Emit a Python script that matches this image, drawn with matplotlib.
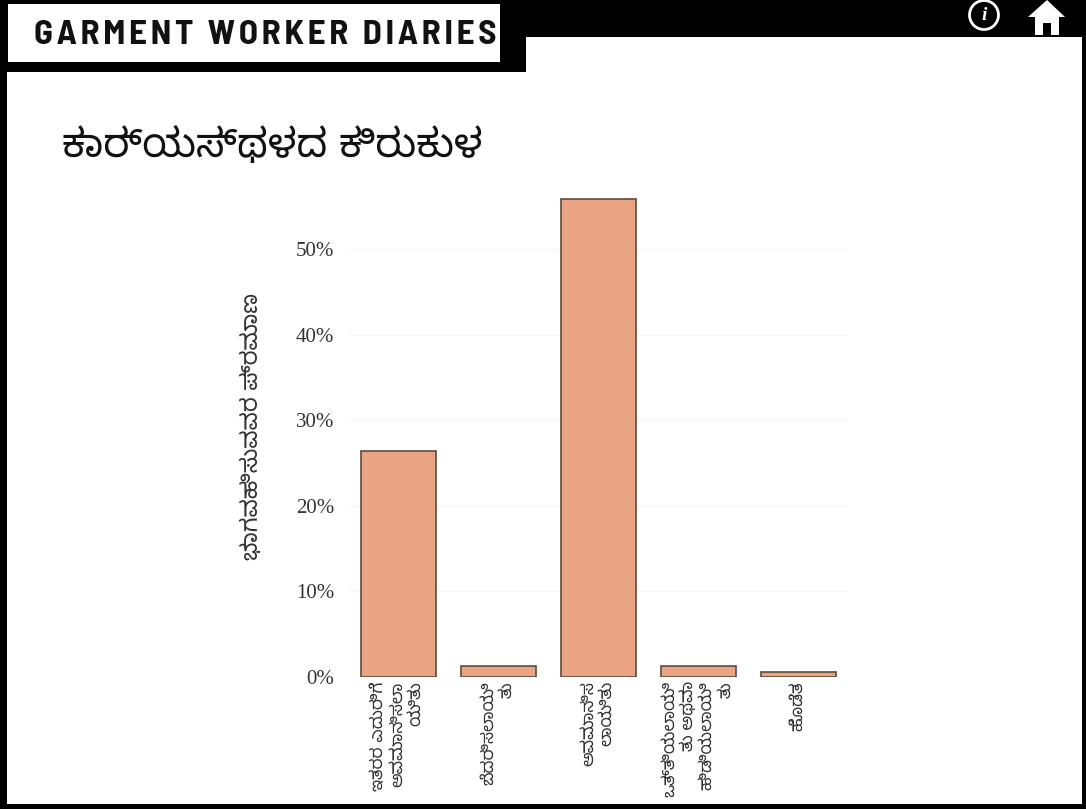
import matplotlib
matplotlib.use("Agg")
import matplotlib.pyplot as plt
from matplotlib.patches import Circle, Polygon, Rectangle

# values (percent of participants)
categories = [
    "ಇತರರ ಎದುರಿಗೆ\nಅವಮಾನಿಸಲಾ\nಯಿತು",
    "ಬೆದರಿಸಲಾಯಿ\nತು",
    "ಅವಮಾನಿಸ\nಲಾಯಿತು",
    "ಒತ್ತಿಯಲಾಯಿ\nತು ಅಥವಾ\nಹಿಡಿಯಲಾಯಿ\nತು",
    "ಹೊಡೆತ",
]
values = [26.4, 1.3, 55.8, 1.3, 0.55]
y_ticks = [0, 10, 20, 30, 40, 50]
y_tick_labels = ["0%", "10%", "20%", "30%", "40%", "50%"]

title = "ಕಾರ್ಯಸ್ಥಳದ ಕಿರುಕುಳ"
y_title = "ಭಾಗವಹಿಸುವವರ ಪ್ರಮಾಣ"
brand = "GARMENT WORKER DIARIES"

W, H = 1086, 809
KANNADA = ["Noto Sans Kannada UI", "Noto Sans Kannada", "Tiro Kannada", "DejaVu Sans"]
SERIF = ["Liberation Serif", "DejaVu Serif"]

fig = plt.figure(figsize=(W / 100, H / 100), dpi=100, facecolor="white")

# page furniture, in pixel coordinates
bg = fig.add_axes([0, 0, 1, 1], zorder=0)
bg.set_xlim(0, W)
bg.set_ylim(H, 0)
bg.axis("off")
for x, y, w, h in [(0, 0, 7, H), (0, 804, W, 5), (1082, 0, 4, H), (0, 0, W, 37), (0, 0, 526, 72)]:
    bg.add_patch(Rectangle((x, y), w, h, color="black", lw=0))
bg.add_patch(Rectangle((8, 4), 492, 58, color="white", lw=0))
bg.text(265, 35, "\u200a".join(brand), fontsize=25.3, fontweight="bold", color="#111111",
        family=["Barlow Semi Condensed", "Roboto", "DejaVu Sans"], ha="center", va="center")
bg.add_patch(Circle((984, 15), 14.5, fill=False, ec="white", lw=2))
bg.text(984, 15, "i", color="white", fontsize=14, fontweight="bold", style="italic",
        family=SERIF, ha="center", va="center")
bg.add_patch(Polygon([(1047, 0), (1065, 17), (1059, 17), (1059, 35), (1051, 35), (1051, 23),
                      (1043, 23), (1043, 35), (1035, 35), (1035, 17), (1028, 17)],
                     closed=True, color="white", lw=0))
bg.text(62, 147, title, fontsize=29, color="#111111", family=KANNADA, ha="left", va="center")

# chart area: 0% at y=677, 50% at y=249
top_px, bottom_px = 180, 677
ax = fig.add_axes([348 / W, 1 - bottom_px / H, 500 / W, (bottom_px - top_px) / H], zorder=1)
ax.patch.set_alpha(0)
ax.bar(range(len(values)), values, width=0.75, color="#E9A583", edgecolor="#5E4B40", linewidth=1.2)
ax.set_xlim(-0.5, 4.5)
ax.set_ylim(0, (bottom_px - top_px) / (428 / 50))
ax.set_yticks(y_ticks)
ax.set_yticklabels(y_tick_labels, family=SERIF, fontsize=15, color="#333333")
ax.set_xticks(range(len(categories)))
ax.set_xticklabels(categories, rotation=90, ha="center", va="top", ma="right",
                   family=KANNADA, fontsize=12.2, color="#333333", linespacing=1.2)
ax.tick_params(axis="both", length=0)
ax.tick_params(axis="y", pad=10)
ax.tick_params(axis="x", pad=3)
ax.grid(axis="y", color="#F6F6F6", lw=1)
ax.set_axisbelow(True)
for spine in ax.spines.values():
    spine.set_visible(False)

fig.text(252 / W, 1 - 427 / H, y_title, rotation=90, family=KANNADA, fontsize=16.5,
         color="#333333", ha="center", va="center")

fig.savefig("out.png", dpi=100)
